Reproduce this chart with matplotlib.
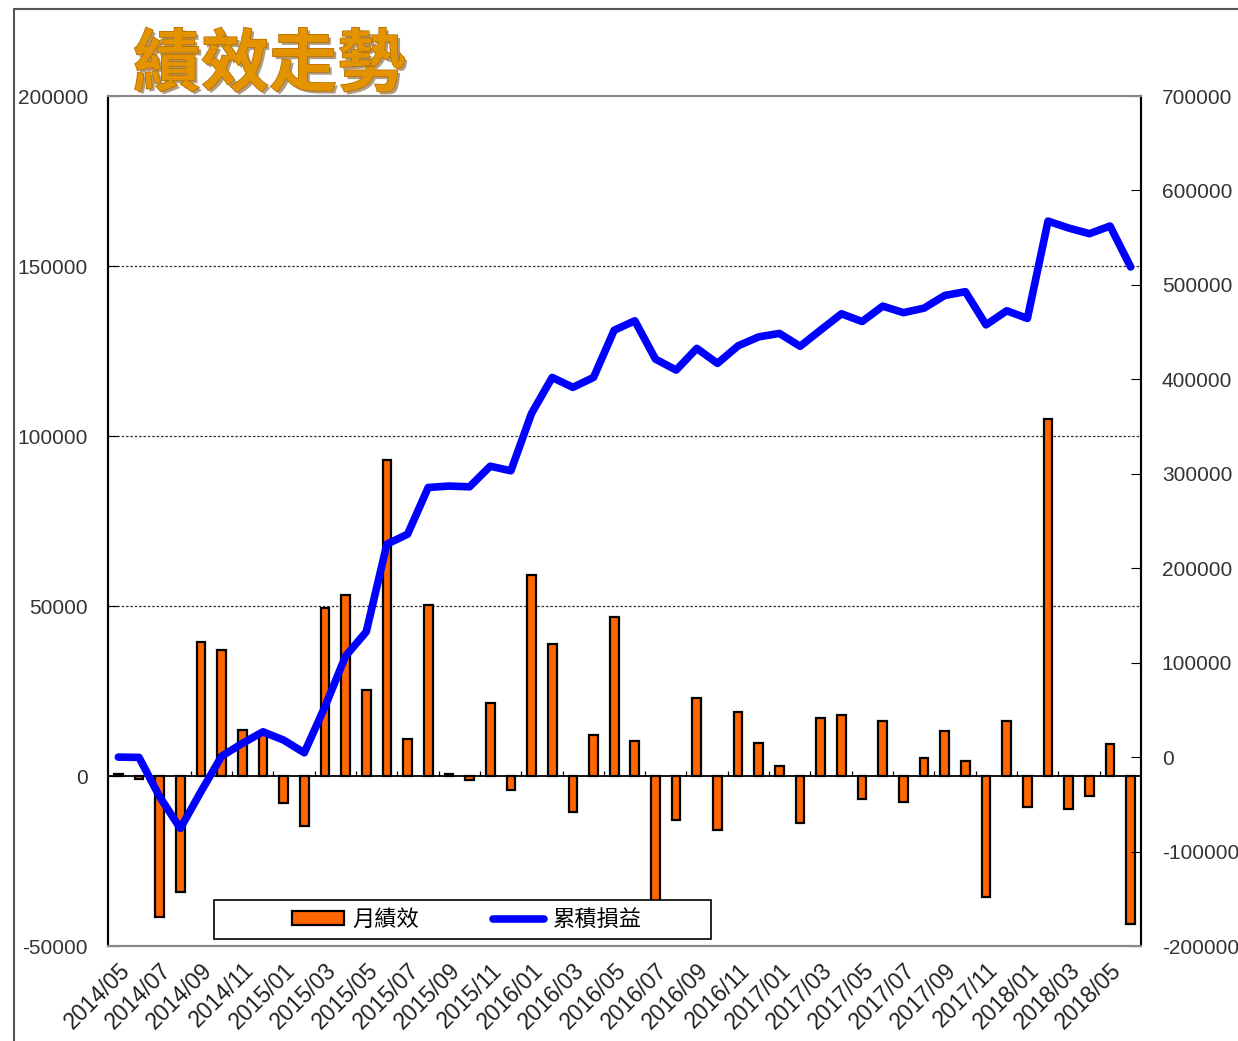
import numpy as np
import matplotlib
matplotlib.use("Agg")
import matplotlib.pyplot as plt
import matplotlib.patheffects as pe
from matplotlib.patches import Rectangle

months = [f"{y}/{m:02d}" for y in range(2014, 2019) for m in range(1, 13)]
months = months[months.index("2014/05"):months.index("2018/06") + 1]

monthly = [
    500, -800, -41600, -34000, 39400, 37000, 13500, 12500, -7800, -14700,
    49300, 53100, 25300, 92800, 10800, 50300, 500, -1200, 21600, -4000,
    59000, 38900, -10600, 12000, 46900, 10300, -41000, -13000, 22900, -15800,
    18800, 9600, 2800, -13900, 17200, 17900, -6900, 16100, -7600, 5300,
    13200, 4500, -35600, 16100, -9000, 104900, -9800, -5800, 9400, -43400,
]
cumulative = [
    0, -300, -42000, -75500, -36500, 1000, 14500, 26800, 18000, 4600,
    53300, 107000, 132700, 225500, 236000, 285500, 287000, 286200, 308000, 303200,
    363900, 402000, 391500, 402000, 452000, 462000, 421400, 409800, 432800, 416900,
    435500, 445000, 448600, 435000, 452300, 469400, 461200, 477500, 470600, 475400,
    488800, 492800, 457700, 472600, 464500, 567500, 560200, 554200, 562300, 519000,
]

plt.rcParams['font.family'] = ['Liberation Sans', 'Noto Sans CJK TC']
plt.rcParams['axes.unicode_minus'] = False
cjk = ['Noto Sans CJK TC', 'DejaVu Sans']

fig = plt.figure(figsize=(12.38, 10.41), dpi=100)
ax = fig.add_axes([108 / 1238, 1 - 946 / 1041, 1033 / 1238, 850 / 1041])
ax2 = ax.twinx()

# outer chart frame
fig.patches.append(Rectangle((14 / 1238, -0.1), 1.2, 1.1 - 9 / 1041,
                             transform=fig.transFigure, fill=False,
                             edgecolor='#555555', lw=1.5, zorder=0))

x = np.arange(len(months))
ax.bar(x, monthly, width=0.42, color='#FF6600', edgecolor='black', lw=1.6, zorder=3,
       label='月績效')
ax2.plot(x, cumulative, color='#0000FF', lw=5.5, solid_capstyle='round',
         solid_joinstyle='round', zorder=4, label='累積損益')

ax.set_xlim(-0.5, len(months) - 0.5)
ax.set_ylim(-50000, 200000)
ax.set_yticks(np.arange(-50000, 200001, 50000))
ax2.set_ylim(-200000, 700000)
ax2.set_yticks(np.arange(-200000, 700001, 100000))

for yv in [50000, 100000, 150000]:
    ax.axhline(yv, color='#333333', lw=0.9, ls=(0, (2, 1.5)), zorder=1)
ax.axhline(0, color='black', lw=1.3, zorder=2)
ax.vlines(np.arange(1.5, len(months), 2), 0, 1600, color='black', lw=0.9, zorder=2)

ax.set_xticks(x[::2])
ax.set_xticklabels(months[::2], rotation=45, ha='right', rotation_mode='anchor',
                   fontsize=16.5, color='#222222')
ax.tick_params(axis='x', length=0, pad=9)
ax.tick_params(axis='y', direction='in', length=7, pad=14.5, labelsize=15,
               labelcolor='#333333')
ax2.tick_params(axis='y', direction='in', length=7, pad=15, labelsize=15,
                labelcolor='#333333')

for a in (ax, ax2):
    a.spines['top'].set_color('#888888')
    a.spines['bottom'].set_color('#888888')
    a.spines['left'].set_color('black')
    a.spines['right'].set_color('black')
    for s in a.spines.values():
        s.set_linewidth(1.5)

# legend box
ax2.add_patch(Rectangle((0.1026, 0.0082), 0.481, 0.046, transform=ax2.transAxes,
                        facecolor='white', edgecolor='black', lw=1.2, zorder=9))
h1, l1 = ax.get_legend_handles_labels()
h2, l2 = ax2.get_legend_handles_labels()
leg = ax2.legend(h1 + h2, l1 + l2, loc='center', ncol=2,
                 bbox_to_anchor=(0.3475, 0.0312),
                 prop={'family': cjk, 'size': 16}, frameon=False,
                 handlelength=2.3, handleheight=0.55, handletextpad=0.4,
                 borderaxespad=0, borderpad=0, columnspacing=3.3)
leg.set_zorder(10)

fig.text(133 / 1238, 1 - 66 / 1041, '績效走勢', family=cjk, fontsize=49,
         fontweight='bold', color='#E39300', va='center', ha='left',
         path_effects=[pe.withSimplePatchShadow(offset=(2, -2), shadow_rgbFace='#7a5a30', alpha=0.6),
                       pe.withStroke(linewidth=1, foreground='#B06A00')])

fig.savefig('out.png', dpi=100, facecolor='white')
